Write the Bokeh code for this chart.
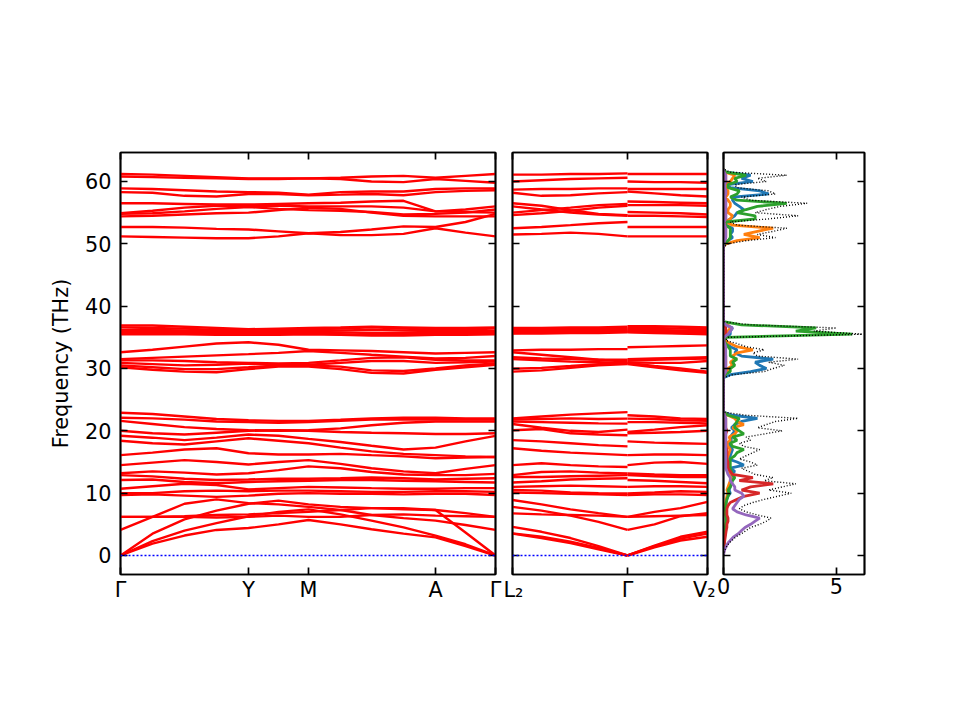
import numpy as np
from bokeh.plotting import figure
from bokeh.layouts import row
from bokeh.models import Range1d, FixedTicker, LinearAxis, Span
from bokeh.embed import file_html
from bokeh.resources import INLINE

FONT = "DejaVu Sans"
FS = "20.8px"

# ---------------- data ----------------
# Panel 1 path: Gamma - Y - M - A - Gamma (path distance)
k1 = [0, 32, 64, 96, 128, 158, 188, 220, 251, 283, 315, 345, 375]
k1_ticks = [0, 128, 188, 315, 375]
k1_labels = ["Γ", "Y", "M", "A", "Γ"]

p1_top = [
    [61.2, 61.1, 60.9, 60.7, 60.5, 60.5, 60.5, 60.6, 60.8, 60.9, 60.6, 60.9, 61.2],
    [60.8, 60.7, 60.6, 60.5, 60.4, 60.4, 60.5, 60.4, 60.0, 59.9, 60.4, 60.1, 59.8],
    [58.9, 58.8, 58.6, 58.4, 58.3, 58.2, 57.9, 58.3, 58.4, 58.4, 58.8, 58.9, 58.9],
    [58.3, 58.2, 57.7, 57.6, 58.0, 58.0, 57.8, 57.9, 58.0, 57.8, 58.3, 58.5, 58.6],
    [56.5, 56.5, 56.4, 56.3, 56.3, 56.4, 56.5, 56.6, 56.8, 56.9, 55.2, 55.5, 56.0],
    [54.9, 55.3, 55.8, 56.1, 56.1, 56.1, 56.0, 56.0, 56.0, 55.8, 55.2, 55.1, 55.0],
    [54.8, 54.9, 55.2, 55.6, 55.9, 55.6, 55.4, 55.3, 55.1, 54.7, 54.8, 55.0, 55.5],
    [54.4, 54.5, 54.7, 54.9, 55.0, 55.4, 55.8, 55.6, 55.0, 54.5, 54.4, 54.4, 54.4],
    [52.7, 52.7, 52.6, 52.4, 52.3, 52.0, 51.7, 51.9, 52.3, 52.8, 52.7, 53.5, 54.8],
    [51.2, 51.1, 51.0, 50.9, 50.9, 51.2, 51.7, 51.4, 51.4, 51.6, 52.5, 51.8, 51.2],
]
p1_mid = [
    [36.9, 36.9, 36.7, 36.5, 36.3, 36.4, 36.5, 36.6, 36.7, 36.6, 36.5, 36.5, 36.6],
    [36.6, 36.5, 36.4, 36.2, 36.1, 36.2, 36.3, 36.4, 36.6, 36.4, 36.2, 36.3, 36.4],
    [36.2, 36.2, 36.1, 36.0, 36.0, 36.0, 36.1, 36.1, 36.2, 36.1, 36.0, 36.0, 36.0],
    [35.9, 35.9, 35.9, 35.8, 35.7, 35.8, 35.9, 35.8, 35.7, 35.7, 35.8, 35.8, 35.8],
    [35.6, 35.6, 35.7, 35.6, 35.5, 35.6, 35.6, 35.5, 35.4, 35.5, 35.5, 35.6, 35.6],
    [35.5, 35.5, 35.5, 35.4, 35.4, 35.4, 35.5, 35.4, 35.3, 35.3, 35.4, 35.4, 35.5],
    [32.6, 33.0, 33.5, 34.0, 34.2, 33.8, 33.0, 32.9, 32.8, 32.6, 32.4, 32.5, 32.6],
    [31.5, 31.7, 31.9, 32.1, 32.3, 32.5, 32.8, 32.5, 32.2, 31.9, 31.6, 31.7, 32.0],
    [31.3, 31.3, 31.2, 31.0, 30.9, 30.8, 30.9, 31.3, 31.7, 31.8, 31.4, 31.3, 31.3],
    [30.9, 30.7, 30.5, 30.6, 30.8, 30.6, 30.6, 30.9, 31.2, 31.2, 30.9, 31.0, 31.1],
    [30.5, 30.2, 29.9, 29.9, 30.2, 30.5, 30.5, 30.3, 29.7, 29.6, 30.0, 30.5, 30.8],
    [30.2, 29.8, 29.5, 29.4, 29.9, 30.3, 30.3, 29.9, 29.3, 29.2, 29.8, 30.2, 30.6],
]
p1_low = [
    [22.9, 22.7, 22.3, 21.9, 21.7, 21.6, 21.6, 21.8, 22.0, 22.1, 22.1, 22.0, 22.0],
    [22.1, 22.0, 21.8, 21.5, 21.4, 21.3, 21.4, 21.6, 21.8, 21.8, 21.8, 21.8, 21.8],
    [21.6, 21.1, 20.6, 20.3, 20.1, 20.0, 20.1, 20.4, 20.9, 21.3, 21.5, 21.5, 21.5],
    [20.0, 19.6, 19.4, 19.7, 20.0, 20.1, 20.0, 19.8, 19.7, 19.6, 19.5, 19.5, 19.6],
    [19.2, 18.9, 18.5, 18.9, 19.4, 19.2, 18.7, 18.2, 17.6, 17.0, 17.3, 18.3, 19.2],
    [18.4, 18.0, 17.8, 18.3, 18.8, 18.4, 18.0, 17.3, 16.7, 16.3, 16.1, 15.9, 15.8],
    [16.1, 16.5, 17.0, 17.2, 16.4, 16.2, 16.2, 16.3, 16.1, 15.9, 15.6, 15.7, 15.8],
    [14.5, 14.9, 15.3, 15.0, 14.6, 15.0, 15.3, 14.7, 14.0, 13.5, 13.2, 13.9, 14.5],
    [13.2, 13.5, 13.3, 13.0, 13.2, 13.7, 14.3, 14.0, 13.4, 13.0, 12.9, 12.9, 13.1],
    [12.9, 12.7, 12.3, 12.1, 12.2, 12.3, 12.3, 12.4, 12.5, 12.4, 12.2, 12.3, 12.4],
    [12.1, 12.2, 11.8, 11.6, 11.8, 11.9, 12.0, 12.1, 12.1, 12.0, 11.9, 11.8, 11.7],
    [10.7, 11.1, 11.5, 11.3, 10.6, 10.8, 11.0, 10.9, 10.8, 10.7, 10.7, 10.8, 10.8],
    [10.0, 10.0, 10.3, 10.4, 10.3, 10.4, 10.4, 10.3, 10.2, 10.2, 10.3, 10.3, 10.2],
    [9.7, 9.8, 9.6, 9.4, 9.6, 9.9, 10.0, 9.9, 9.9, 9.8, 9.9, 9.9, 9.7],
    [4.1, 6.2, 8.3, 9.0, 8.4, 8.2, 7.8, 7.3, 6.5, 6.0, 5.6, 4.9, 4.1],
    [6.2, 6.2, 6.3, 6.5, 6.6, 6.8, 7.0, 7.3, 7.6, 7.6, 7.3, 6.8, 6.2],
    [6.2, 6.2, 6.2, 6.1, 6.2, 6.4, 6.2, 6.2, 6.5, 6.6, 6.4, 6.3, 6.2],
    [0.0, 3.5, 5.8, 7.2, 8.3, 8.8, 8.2, 7.8, 7.6, 7.4, 7.3, 3.7, 0.0],
    [0.0, 2.3, 4.0, 5.2, 6.3, 7.0, 7.4, 6.6, 5.6, 4.5, 3.2, 1.8, 0.0],
    [0.0, 1.9, 3.2, 4.1, 4.4, 5.0, 5.7, 5.0, 4.2, 3.5, 2.9, 1.5, 0.0],
]

# Panel 2 path: L2 - Gamma | Gamma - V2
k2a = [0, 29, 58, 86, 115]
k2b = [115, 142, 168, 195]
k2_ticks = [0, 115, 195]
k2_labels = ["L₂", "Γ", "V₂"]

p2a_bands = [
    [61.1, 61.1, 61.2, 61.2, 61.3], [60.0, 60.2, 60.4, 60.5, 60.6],
    [58.7, 58.8, 58.8, 58.9, 58.9], [58.2, 57.7, 57.8, 58.1, 58.3],
    [56.5, 56.1, 55.4, 54.8, 54.6], [56.0, 55.5, 55.0, 54.7, 54.5],
    [55.0, 55.4, 55.8, 56.2, 56.4], [54.6, 54.9, 55.3, 55.8, 56.1],
    [52.5, 52.7, 53.0, 53.3, 53.5], [51.5, 51.6, 51.8, 51.6, 51.2],
    [36.5, 36.5, 36.6, 36.6, 36.7], [36.3, 36.3, 36.3, 36.4, 36.4],
    [36.1, 36.1, 36.1, 36.2, 36.2], [35.9, 35.9, 36.0, 36.0, 36.0],
    [35.7, 35.8, 35.8, 35.9, 35.9], [35.6, 35.6, 35.7, 35.7, 35.8],
    [32.9, 33.0, 33.0, 33.1, 33.1], [32.6, 32.2, 31.8, 31.4, 31.1],
    [31.8, 31.6, 31.5, 31.4, 31.4], [31.5, 31.3, 31.1, 31.0, 30.9],
    [29.95, 30.1, 30.4, 30.7, 30.8], [29.5, 29.7, 30.1, 30.5, 30.7],
    [22.0, 22.3, 22.6, 22.8, 23.0], [21.8, 21.9, 22.0, 21.9, 21.95],
    [21.5, 21.4, 21.3, 21.2, 21.15], [21.1, 20.5, 20.0, 19.8, 20.2],
    [20.1, 20.3, 19.6, 19.4, 19.3], [18.5, 18.3, 18.0, 17.7, 17.5],
    [17.2, 16.8, 16.5, 16.3, 16.1], [14.5, 14.8, 14.5, 14.3, 14.2],
    [12.9, 13.4, 13.5, 13.3, 13.15], [12.6, 12.6, 12.7, 12.8, 12.9],
    [11.7, 11.9, 12.2, 12.3, 12.4], [11.0, 11.1, 11.2, 11.1, 11.0],
    [10.5, 10.4, 10.1, 10.0, 9.95], [10.1, 10.0, 9.9, 9.8, 9.7],
    [8.9, 8.2, 7.4, 6.8, 6.2], [7.8, 7.2, 6.4, 5.4, 4.1],
    [6.75, 6.6, 6.5, 6.4, 6.2], [4.6, 3.8, 2.8, 1.5, 0.0],
    [3.55, 3.0, 2.2, 1.2, 0.0], [3.5, 2.8, 2.0, 1.0, 0.0],
]
p2b_bands = [
    [61.2, 61.2, 61.2, 61.2], [60.0, 59.9, 59.9, 59.8],
    [58.8, 58.8, 58.8, 58.8], [58.4, 58.1, 57.8, 57.6],
    [56.8, 56.7, 56.6, 56.5], [56.2, 56.2, 56.2, 56.1],
    [55.1, 55.0, 54.9, 54.7], [54.5, 54.5, 54.4, 54.3],
    [52.7, 52.7, 52.7, 52.7], [51.2, 51.2, 51.2, 51.2],
    [36.8, 36.8, 36.7, 36.6], [36.5, 36.5, 36.4, 36.3],
    [36.3, 36.2, 36.1, 36.0], [36.1, 36.0, 35.9, 35.8],
    [35.9, 35.8, 35.7, 35.6], [35.8, 35.7, 35.6, 35.5],
    [33.4, 33.5, 33.6, 33.7], [31.5, 31.6, 31.7, 31.8],
    [31.3, 31.4, 31.5, 31.6], [31.0, 30.9, 30.9, 31.2],
    [30.9, 30.4, 30.0, 29.5], [30.7, 30.2, 29.7, 29.3],
    [22.5, 22.3, 22.0, 21.9], [21.95, 21.9, 21.7, 21.6],
    [21.4, 21.4, 21.3, 21.2], [19.8, 20.2, 20.6, 20.9],
    [19.6, 19.7, 19.8, 20.0], [18.3, 18.1, 18.0, 17.9],
    [16.1, 16.2, 16.2, 16.1], [14.5, 14.9, 15.0, 14.7],
    [13.15, 13.0, 12.9, 12.9], [12.9, 12.7, 12.6, 12.6],
    [12.1, 12.0, 11.8, 11.6], [11.0, 11.1, 11.1, 11.0],
    [9.95, 10.1, 10.3, 10.2], [9.7, 9.8, 9.8, 9.7],
    [6.2, 7.0, 7.6, 8.6], [4.1, 5.0, 6.3, 6.8],
    [6.2, 6.3, 6.4, 6.5], [0.0, 1.6, 3.0, 3.8],
    [0.0, 1.5, 2.7, 3.5], [0.0, 1.3, 2.4, 3.0],
]

# Panel 3: phonon DOS (total + partials) vs frequency
dos_freq = list(np.arange(0.0, 23.01, 0.5)) + list(np.arange(28.5, 37.51, 0.5)) + list(np.arange(49.5, 62.01, 0.5))
dos_total = [0, 0.02, 0.08, 0.15, 0.25, 0.4, 0.55, 0.8, 1.0, 1.2, 1.6, 1.9, 2.1, 1.5, 1.0, 0.7, 0.9, 1.3, 1.8, 2.4,
             3.0, 2.0, 2.6, 3.2, 1.8, 2.2, 1.4, 1.1, 0.8, 1.5, 1.2, 0.7, 1.0, 1.3, 1.6, 0.9, 0.7, 1.2, 1.0, 1.8,
             2.6, 1.5, 1.9, 2.3, 3.3, 1.0, 0,
             0, 0.4, 1.8, 2.2, 2.7, 2.0, 3.3, 1.5, 1.3, 1.8, 1.0, 0.6, 0.1, 0.2, 6.15, 4.0, 5.0, 1.2, 0,
             0, 0.2, 1.0, 2.3, 1.5, 2.2, 2.8, 0.6, 0.3, 2.0, 3.3, 1.4, 1.9, 2.5, 3.7, 1.2, 0.8, 2.3, 2.0, 0.6,
             0.5, 1.9, 1.5, 2.8, 0.3, 0]
dos_blue = [0, 0, 0.01, 0.02, 0.03, 0.05, 0.05, 0.08, 0.1, 0.1, 0.12, 0.15, 0.15, 0.12, 0.1, 0.08, 0.1, 0.12, 0.15, 0.2,
            0.3, 0.25, 0.3, 0.35, 0.3, 0.4, 0.35, 0.5, 0.3, 0.9, 0.6, 0.2, 0.3, 0.35, 0.4, 0.3, 0.25, 0.35, 0.3, 0.4,
            0.5, 0.35, 0.5, 0.8, 1.5, 0.4, 0,
            0, 0.3, 1.2, 1.9, 1.6, 1.4, 2.2, 0.8, 0.5, 0.6, 0.3, 0.2, 0.02, 0.05, 0.3, 0.3, 0.4, 0.1, 0,
            0, 0.05, 0.2, 0.4, 0.3, 0.4, 0.4, 0.1, 0.05, 0.3, 0.5, 0.6, 0.9, 0.7, 0.5, 0.4, 0.4, 2.0, 1.6, 0.3,
            0.2, 1.3, 0.8, 1.2, 0.1, 0]
dos_orange = [0, 0, 0, 0.01, 0.02, 0.03, 0.04, 0.05, 0.06, 0.08, 0.1, 0.12, 0.12, 0.1, 0.08, 0.06, 0.08, 0.1, 0.12, 0.15,
              0.2, 0.15, 0.2, 0.25, 0.3, 0.35, 0.25, 0.2, 0.15, 0.2, 0.2, 0.15, 0.2, 0.25, 0.3, 0.2, 0.15, 0.3, 0.25, 0.5,
              0.6, 0.4, 0.9, 0.6, 0.5, 0.2, 0,
              0, 0.05, 0.2, 0.2, 0.4, 0.3, 0.5, 0.4, 0.6, 1.3, 0.6, 0.3, 0.05, 0.05, 0.1, 0.2, 0.3, 0.2, 0,
              0, 0.1, 0.6, 1.6, 0.9, 1.5, 2.2, 0.4, 0.1, 0.3, 0.4, 0.2, 0.2, 0.3, 0.3, 0.2, 0.1, 0.2, 0.2, 0.1,
              0.1, 0.3, 0.4, 0.5, 0.05, 0]
dos_green = [0, 0, 0, 0.01, 0.02, 0.03, 0.04, 0.05, 0.06, 0.08, 0.1, 0.12, 0.12, 0.1, 0.1, 0.08, 0.1, 0.12, 0.15, 0.2,
             0.25, 0.2, 0.3, 0.35, 0.4, 0.5, 0.4, 0.35, 0.3, 0.3, 0.3, 0.3, 0.5, 0.6, 0.9, 0.4, 0.3, 0.6, 0.4, 0.9,
             0.7, 0.5, 0.5, 0.6, 0.7, 0.2, 0,
             0, 0.05, 0.3, 0.3, 0.5, 0.4, 0.6, 0.3, 0.3, 0.3, 0.2, 0.1, 0.02, 0.1, 5.7, 3.2, 4.1, 0.8, 0,
             0, 0.05, 0.2, 0.3, 0.3, 0.3, 0.3, 0.1, 0.1, 1.4, 1.4, 0.6, 1.0, 1.5, 2.8, 0.6, 0.3, 0.6, 0.7, 0.2,
             0.2, 0.6, 0.5, 1.0, 0.1, 0]
dos_red = [0, 0.01, 0.02, 0.03, 0.04, 0.06, 0.08, 0.1, 0.12, 0.15, 0.15, 0.2, 0.2, 0.15, 0.15, 0.15, 0.2, 0.3, 0.6, 0.9,
           1.6, 0.8, 1.2, 2.2, 0.7, 1.3, 0.4, 0.3, 0.2, 0.2, 0.2, 0.15, 0.15, 0.15, 0.15, 0.1, 0.1, 0.1, 0.1, 0.1,
           0.15, 0.1, 0.1, 0.1, 0.1, 0.05, 0,
           0, 0.02, 0.1, 0.1, 0.1, 0.1, 0.1, 0.1, 0.05, 0.05, 0.05, 0.05, 0.01, 0.02, 0.1, 0.1, 0.1, 0.05, 0,
           0, 0.01, 0.05, 0.1, 0.1, 0.1, 0.1, 0.05, 0.02, 0.1, 0.1, 0.1, 0.1, 0.1, 0.1, 0.1, 0.05, 0.1, 0.1, 0.05,
           0.05, 0.1, 0.1, 0.1, 0.02, 0]
dos_purple = [0, 0.02, 0.06, 0.12, 0.2, 0.32, 0.45, 0.65, 0.8, 0.95, 1.2, 1.4, 1.6, 1.0, 0.6, 0.4, 0.5, 0.6, 0.7, 0.9,
              0.8, 0.5, 0.5, 0.4, 0.3, 0.3, 0.2, 0.15, 0.1, 0.1, 0.1, 0.1, 0.1, 0.1, 0.1, 0.1, 0.1, 0.1, 0.1, 0.1,
              0.1, 0.1, 0.1, 0.1, 0.1, 0.05, 0,
              0, 0.02, 0.1, 0.1, 0.1, 0.1, 0.1, 0.1, 0.1, 0.1, 0.1, 0.05, 0.01, 0.02, 0.2, 0.3, 0.4, 0.1, 0,
              0, 0.01, 0.05, 0.1, 0.1, 0.1, 0.1, 0.05, 0.02, 0.1, 0.1, 0.1, 0.1, 0.1, 0.1, 0.1, 0.05, 0.1, 0.1, 0.05,
              0.05, 0.1, 0.1, 0.1, 0.02, 0]
dos_ticks = [0, 5]
freq_ticks = [0, 10, 20, 30, 40, 50, 60]

# ---------------- styling helpers ----------------
YR = (-3.05, 64.65)
TICK_W = 1.7
TOP = 152


def style_axis(ax, ticks, labels=None):
    ax.ticker = FixedTicker(ticks=ticks)
    ax.minor_tick_line_color = None
    ax.major_tick_in = 7
    ax.major_tick_out = 0
    ax.major_tick_line_width = TICK_W
    ax.major_tick_line_color = "black"
    ax.axis_line_width = TICK_W
    ax.axis_line_color = "black"
    ax.major_label_text_font = FONT
    ax.major_label_text_font_size = FS
    ax.major_label_text_color = "black"
    if labels is None:
        ax.major_label_overrides = {t: "" for t in ticks}
    else:
        ax.major_label_overrides = {t: l for t, l in zip(ticks, labels)}


def make_fig(xr, width, bl, br):
    p = figure(width=width, height=TOP + 422 + 60, x_range=Range1d(*xr), y_range=Range1d(*YR),
               output_backend="svg", toolbar_location=None,
               min_border_left=bl, min_border_right=br, min_border_top=TOP, min_border_bottom=60,
               background_fill_color="white", border_fill_color="white")
    p.grid.visible = False
    p.outline_line_color = "black"
    p.outline_line_width = TICK_W
    return p


def add_frame_axes(p, xticks, yticks):
    top = LinearAxis()
    right = LinearAxis()
    p.add_layout(top, "above")
    p.add_layout(right, "right")
    style_axis(top, xticks)
    style_axis(right, yticks)
    top.major_label_standoff = 0
    right.major_label_standoff = 0


def zero_line(p):
    p.add_layout(Span(location=0, dimension="width", line_color="#0000ff", line_dash="2 2", line_width=1.3))


# ---------------- panel 1 ----------------
p1 = make_fig((0, 375), 120 + 375 + 8, 120, 8)
for b in p1_top + p1_mid + p1_low:
    p1.line(k1, b, line_color="red", line_width=2.4)
zero_line(p1)
style_axis(p1.xaxis[0], k1_ticks, k1_labels)
style_axis(p1.yaxis[0], freq_ticks, [str(t) for t in freq_ticks])
p1.xaxis[0].major_label_standoff = 3
p1.yaxis[0].major_label_standoff = 9
p1.yaxis[0].axis_label = "Frequency (THz)"
p1.yaxis[0].axis_label_text_font = FONT
p1.yaxis[0].axis_label_text_font_size = FS
p1.yaxis[0].axis_label_text_font_style = "normal"
p1.yaxis[0].axis_label_text_color = "black"
p1.yaxis[0].axis_label_standoff = 9
add_frame_axes(p1, k1_ticks, freq_ticks)

# ---------------- panel 2 ----------------
p2 = make_fig((0, 195), 9 + 195 + 8, 9, 8)
for b in p2a_bands:
    p2.line(k2a, b, line_color="red", line_width=2.4)
for b in p2b_bands:
    p2.line(k2b, b, line_color="red", line_width=2.4)
zero_line(p2)
style_axis(p2.xaxis[0], k2_ticks, k2_labels)
style_axis(p2.yaxis[0], freq_ticks)
p2.xaxis[0].major_label_standoff = 3
p2.yaxis[0].major_label_standoff = 0
add_frame_axes(p2, k2_ticks, freq_ticks)

# ---------------- panel 3 ----------------
p3 = make_fig((0, 6.24), 8 + 141 + 40, 8, 40)
for series, col in [(dos_blue, "#1f77b4"), (dos_orange, "#ff7f0e"), (dos_green, "#2ca02c"),
                    (dos_red, "#d62728"), (dos_purple, "#9467bd")]:
    p3.line(series, dos_freq, line_color=col, line_width=2.8)
p3.line(dos_total, dos_freq, line_color="black", line_width=1.4, line_dash="1 2")
style_axis(p3.xaxis[0], dos_ticks, [str(t) for t in dos_ticks])
style_axis(p3.yaxis[0], freq_ticks)
p3.xaxis[0].major_label_standoff = 3
p3.yaxis[0].major_label_standoff = 0
add_frame_axes(p3, dos_ticks, freq_ticks)

layout = row(p1, p2, p3)
open("out.html", "w").write(file_html(layout, INLINE))
